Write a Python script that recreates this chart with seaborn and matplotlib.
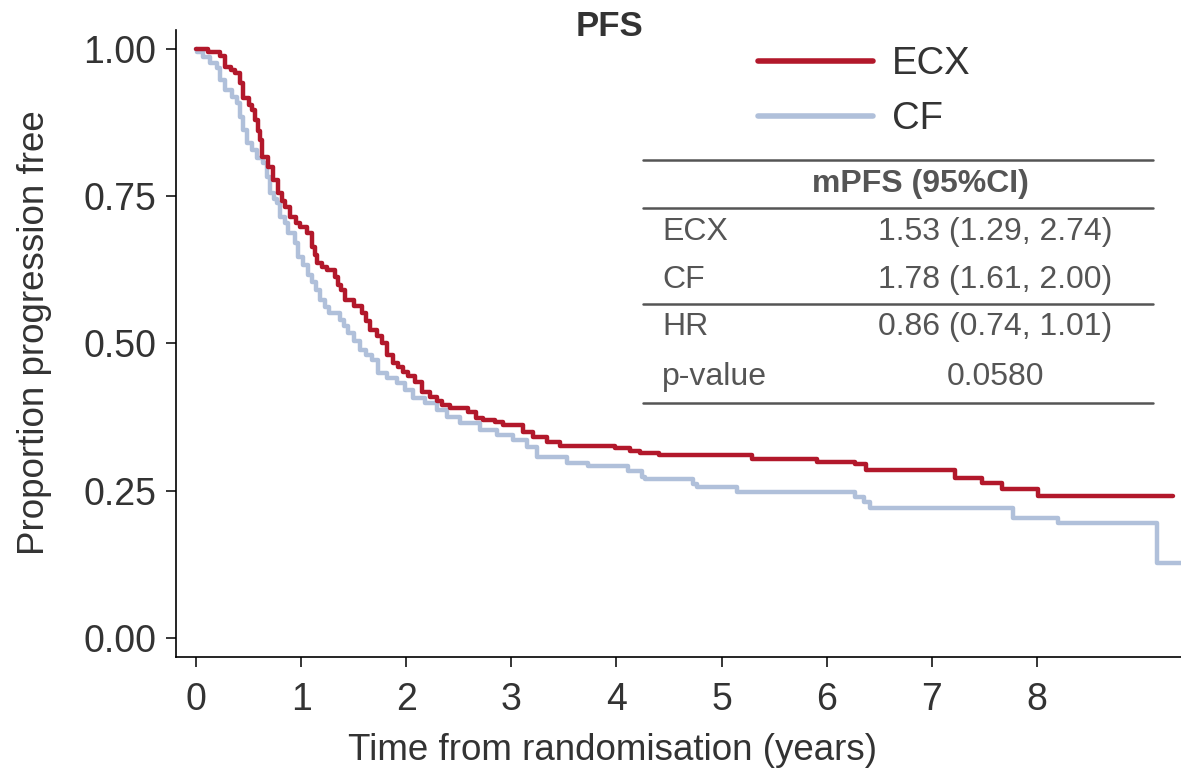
import pandas as pd
import matplotlib.pyplot as plt
import seaborn as sns
from matplotlib.lines import Line2D

# Kaplan-Meier step points (time in years, proportion free)
ecx_time = [0.00, 0.11, 0.23, 0.28, 0.33, 0.37, 0.42, 0.45, 0.50, 0.53, 0.56, 0.59, 0.61,
            0.63, 0.69, 0.73, 0.78, 0.82, 0.85, 0.89, 0.95, 0.99, 1.06, 1.10, 1.13, 1.15,
            1.20, 1.25, 1.32, 1.35, 1.38, 1.42, 1.50, 1.58, 1.62, 1.66, 1.72, 1.77, 1.82,
            1.87, 1.92, 1.97, 2.02, 2.08, 2.15, 2.23, 2.29, 2.34, 2.42, 2.59, 2.66, 2.73,
            2.84, 2.92, 3.11, 3.21, 3.34, 3.46, 3.99, 4.13, 4.22, 4.40, 5.29, 5.91, 6.27,
            6.37, 7.22, 7.48, 7.67, 8.01, 9.29]
ecx_surv = [1.000, 0.995, 0.988, 0.970, 0.965, 0.959, 0.942, 0.917, 0.905, 0.896, 0.880, 0.860, 0.845,
            0.817, 0.800, 0.778, 0.755, 0.742, 0.732, 0.715, 0.705, 0.698, 0.688, 0.664, 0.650, 0.637,
            0.630, 0.625, 0.613, 0.600, 0.590, 0.574, 0.563, 0.552, 0.538, 0.523, 0.512, 0.501, 0.480,
            0.467, 0.460, 0.452, 0.445, 0.435, 0.418, 0.409, 0.402, 0.396, 0.390, 0.384, 0.374, 0.370,
            0.367, 0.362, 0.350, 0.341, 0.333, 0.326, 0.323, 0.318, 0.314, 0.311, 0.304, 0.299, 0.295,
            0.285, 0.272, 0.263, 0.253, 0.241, 0.241]

cf_time = [0.00, 0.01, 0.07, 0.13, 0.20, 0.23, 0.28, 0.34, 0.39, 0.42, 0.45, 0.49,
           0.53, 0.58, 0.64, 0.68, 0.70, 0.74, 0.77, 0.80, 0.85, 0.88, 0.94, 0.97, 1.02,
           1.07, 1.10, 1.14, 1.18, 1.23, 1.27, 1.37, 1.41, 1.45, 1.50, 1.56, 1.62, 1.67,
           1.73, 1.82, 1.91, 1.99, 2.06, 2.18, 2.29, 2.39, 2.51, 2.70, 2.86, 3.02, 3.15,
           3.24, 3.53, 3.73, 4.11, 4.24, 4.27, 4.73, 4.77, 5.15, 6.27, 6.35, 6.41, 7.77,
           8.20, 9.14, 9.37]
cf_surv = [1.000, 0.995, 0.986, 0.976, 0.968, 0.947, 0.930, 0.918, 0.908, 0.885, 0.862, 0.840,
           0.829, 0.815, 0.806, 0.783, 0.755, 0.745, 0.739, 0.715, 0.705, 0.688, 0.671, 0.647, 0.633,
           0.616, 0.604, 0.590, 0.574, 0.562, 0.552, 0.540, 0.530, 0.518, 0.505, 0.489, 0.480, 0.472,
           0.450, 0.441, 0.433, 0.421, 0.407, 0.399, 0.387, 0.375, 0.365, 0.353, 0.345, 0.336, 0.324,
           0.307, 0.297, 0.292, 0.284, 0.274, 0.270, 0.261, 0.257, 0.248, 0.240, 0.231, 0.220, 0.204,
           0.195, 0.127, 0.127]

arms = ['ECX', 'CF']
colors = {'ECX': '#b2182b', 'CF': '#b0c0da'}

# summary table
table_header = 'mPFS (95%CI)'
table_labels = ['ECX', 'CF', 'HR', 'p-value']
table_values = ['1.53 (1.29, 2.74)', '1.78 (1.61, 2.00)', '0.86 (0.74, 1.01)', '0.0580']

x_ticks = [0, 1, 2, 3, 4, 5, 6, 7, 8]
y_ticks = [0.00, 0.25, 0.50, 0.75, 1.00]

df = pd.concat([
    pd.DataFrame({'time': cf_time, 'surv': cf_surv, 'arm': 'CF'}),
    pd.DataFrame({'time': ecx_time, 'surv': ecx_surv, 'arm': 'ECX'}),
], ignore_index=True)

sns.set_theme(style='ticks')
plt.rcParams['font.family'] = ['Liberation Sans', 'DejaVu Sans']

fig = plt.figure(figsize=(11.81, 7.71), dpi=100)
ax = fig.add_axes([0.149, 0.148, 0.851, 0.813])

sns.lineplot(data=df, x='time', y='surv', hue='arm', hue_order=['CF', 'ECX'],
             palette=colors, estimator=None, sort=False, drawstyle='steps-post',
             linewidth=3.2, legend=False, ax=ax)

ax.set_xlim(-0.19, 9.37)
ax.set_ylim(-0.032, 1.032)
ax.set_xticks(x_ticks)
ax.set_yticks(y_ticks)
ax.set_yticklabels([f'{v:.2f}' for v in y_ticks])
sns.despine(ax=ax)
for s in ['left', 'bottom']:
    ax.spines[s].set_color('black')
    ax.spines[s].set_linewidth(1.2)
ax.tick_params(axis='both', direction='out', length=7, width=1.1, color='black',
               labelsize=27, labelcolor='#333333')
ax.tick_params(axis='x', pad=11)
ax.tick_params(axis='y', pad=7)
ax.set_xlabel('Time from randomisation (years)', fontsize=26.5, color='#333333')
ax.set_ylabel('Proportion progression free', fontsize=26.5, color='#333333')
ax.xaxis.set_label_coords(0.434, -0.121)
ax.yaxis.set_label_coords(-0.123, 0.518)

fig.text(609 / 1181, 1 - 27 / 771, 'PFS', fontsize=25, fontweight='bold', color='#333333',
         ha='center', va='center')

handles = [Line2D([0], [0], color=colors[a], lw=4) for a in arms]
ax.legend(handles, arms, loc='upper left', bbox_to_anchor=(0.613, 0.985),
          bbox_transform=fig.transFigure, frameon=False, fontsize=27.5,
          handlelength=3.0, handletextpad=0.5, labelspacing=0.5, labelcolor='#333333')

# table drawn in figure pixel fractions
W, H = 1181, 771
x0, x1 = 643 / W, 1153 / W
for yp in [160, 208, 304, 403]:
    fig.add_artist(Line2D([x0, x1], [1 - yp / H, 1 - yp / H], color='#555555', lw=1.8))
fig.text(920 / W, 1 - 184 / H, table_header, fontsize=23, fontweight='bold',
         color='#555555', ha='center', va='center')
for i, (lab, val) in enumerate(zip(table_labels, table_values)):
    yp = [232, 280, 327, 377][i]
    fig.text(662 / W, 1 - yp / H, lab, fontsize=23, color='#555555', ha='left', va='center')
    fig.text(995 / W, 1 - yp / H, val, fontsize=23, color='#555555', ha='center', va='center')

fig.savefig('out.png', dpi=100)
